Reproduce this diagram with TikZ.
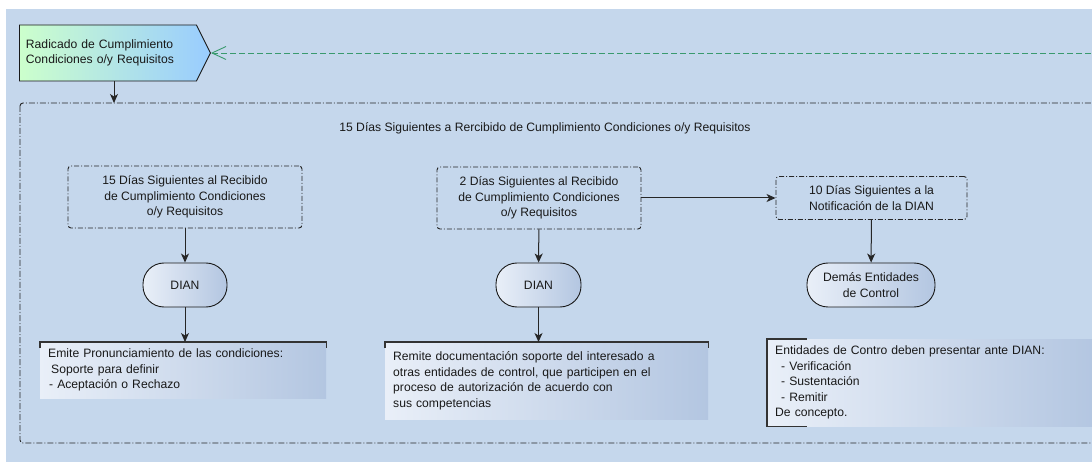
\documentclass[tikz,border=0pt]{standalone}
\usepackage{fontspec}
\setmainfont{Liberation Sans}
\usetikzlibrary{arrows.meta,shapes.symbols}
\newcommand{\boxFont}[0]{\fontsize{12.15}{15.5}\selectfont}
\definecolor{bgBlue}{HTML}{C5D7EC}
\definecolor{noteLeft}{HTML}{E9EFF8}
\definecolor{noteRight}{HTML}{B3C6E1}
\definecolor{linkGreen}{HTML}{3A9A6E}
\definecolor{radLeft}{HTML}{CCFFCC}
\definecolor{radRight}{HTML}{99CCFF}

\begin{document}
\begin{tikzpicture}[x=1pt, y=-1pt]
  \tikzset{every node/.style={font=\boxFont, text=black!90},
    timeBox/.style={draw=black!85, line width=0.9pt, dash pattern=on 5pt off 2pt on 1pt off 2pt,
      rounded corners=3pt, align=center, inner sep=0pt},
    actor/.style={draw=black!90, line width=0.9pt, rounded corners=21pt, left color=noteLeft,
      right color=noteRight, minimum height=44, align=center, inner sep=0pt},
    noteBox/.style={left color=noteLeft, right color=noteRight, align=left, anchor=north west,
      inner xsep=8pt, inner ysep=0pt},
    flow/.style={-{Stealth[length=9pt,width=8pt,inset=2.5pt]}, line width=1pt, draw=black!85},
    bracket/.style={draw=black!80, line width=1.2pt}}
  \fill[white] (0,0) rectangle (1092,462);
  \useasboundingbox (0,0) rectangle (1092,462);
  \fill[bgBlue] (6,9) rectangle (1092,462);

  \node[signal, signal to=east, signal pointer angle=127, draw=black!90, line width=0.9pt,
    left color=radLeft, right color=radRight, minimum width=191, minimum height=56,
    text width=164, align=left, anchor=west, inner xsep=2pt] (radicado) at (19,53)
    {Radicado de Cumplimiento\\Condiciones o/y Requisitos};
  \coordinate (retorno) at (1100,53);
  \draw[linkGreen, line width=0.9pt, dash pattern=on 6pt off 3pt,
    -{Straight Barb[length=14pt,width=13pt]}] (retorno) -- (radicado.east);

  \draw[black!85, line width=0.9pt, dash pattern=on 6pt off 2pt on 1pt off 2pt, rounded corners=3pt]
    (20,103) rectangle (1110,443);
  \coordinate (marco) at (114,103);
  \draw[flow] (radicado.south -| marco) -- (marco);
  \node (titulo) at (545,128)
    {15 Días Siguientes a Rercibido de Cumplimiento Condiciones o/y Requisitos};

  \node[timeBox, minimum width=234, minimum height=62] (plazoUno) at (185,197)
    {15 Días Siguientes al Recibido\\de Cumplimiento Condiciones\\o/y Requisitos};
  \node[timeBox, minimum width=204, minimum height=62] (plazoDos) at (539,198)
    {2 Días Siguientes al Recibido\\de Cumplimiento Condiciones\\o/y Requisitos};
  \node[timeBox, minimum width=191, minimum height=43] (plazoTres) at (871.5,198)
    {10 Días Siguientes a la\\Notificación de la DIAN};

  \node[actor, minimum width=84] (dianUno) at (185,285) {DIAN};
  \node[actor, minimum width=85] (dianDos) at (538.5,285) {DIAN};
  \node[actor, minimum width=128] (entidades) at (871,285) {Demás Entidades\\de Control};

  \node[noteBox, minimum width=286, minimum height=56, text width=270] (notaUno) at (40,342)
    {Emite Pronunciamiento de las condiciones:\\\hspace*{3pt}Soporte para definir\\\hspace*{1pt}- Aceptación o Rechazo};
  \node[noteBox, minimum width=323, minimum height=77, text width=307] (notaDos) at (385,342)
    {Remite documentación soporte del interesado a\\otras entidades de control, que participen en el\\proceso de autorización de acuerdo con\\sus competencias};
  \node[noteBox, minimum width=330, minimum height=87, text width=314] (notaTres) at (767,339)
    {Entidades de Contro deben presentar ante DIAN:\\\hspace*{6pt}- Verificación\\\hspace*{6pt}- Sustentación\\\hspace*{6pt}- Remitir\\De concepto.};

  \draw[bracket] ([yshift=-6]notaUno.north west) -- (notaUno.north west) -- (notaUno.north east) -- ++(0,6);
  \draw[bracket] ([yshift=-6]notaDos.north west) -- (notaDos.north west) -- (notaDos.north east) -- ++(0,6);
  \draw[bracket] ([xshift=40]notaTres.north west) -- (notaTres.north west) -- (notaTres.south west) -- ++(40,0);

  \draw[flow] (plazoUno) -- (dianUno);
  \draw[flow] (dianUno) -- (dianUno.south |- notaUno.north);
  \draw[flow] (plazoDos) -- (dianDos);
  \draw[flow] (dianDos) -- (dianDos.south |- notaDos.north);
  \draw[flow] (plazoDos.east) -- (plazoDos.east -| plazoTres.west);
  \draw[flow] (plazoTres) -- (entidades);
\end{tikzpicture}
\end{document}
